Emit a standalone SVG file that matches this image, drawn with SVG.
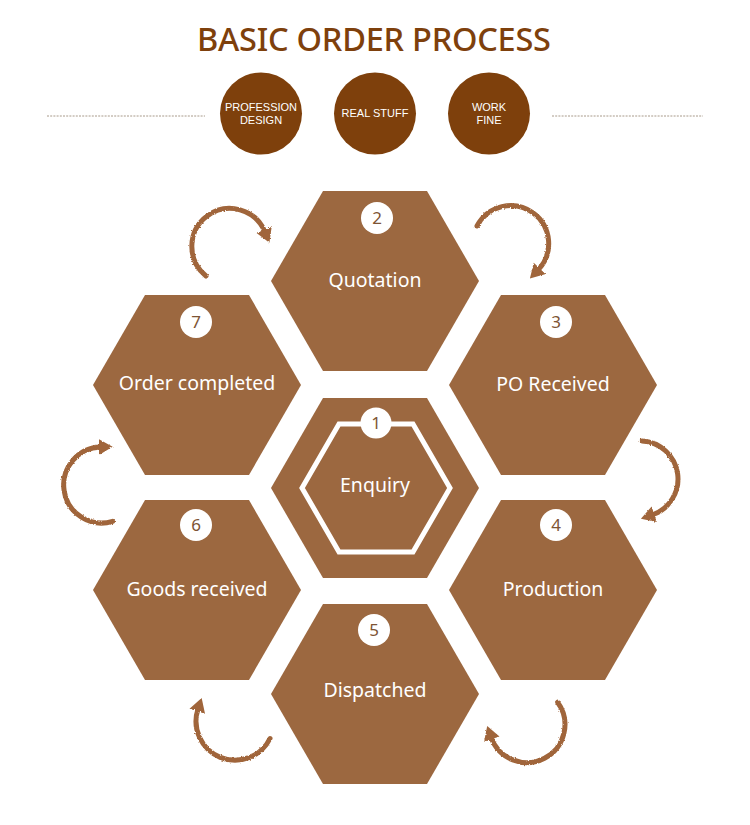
<svg xmlns="http://www.w3.org/2000/svg" width="750" height="825" viewBox="0 0 750 825">
<defs>
<style>
.hex{fill:#9C6840;}
.lbl{font-family:"Noto Sans","Open Sans",sans-serif;font-size:19.5px;fill:#ffffff;text-anchor:middle;}
.num{fill:#ffffff;}
.numt{font-family:"Noto Sans","Open Sans",sans-serif;font-size:17px;fill:#7d5434;text-anchor:middle;}
.badge{fill:#7E400C;}
.badget{font-family:"Liberation Sans",Arial,sans-serif;font-size:11px;fill:#ffffff;text-anchor:middle;}
.dash{stroke:#a89a8a;stroke-width:1;stroke-dasharray:2 1.2;fill:none;}
.arrow{fill:none;stroke:#A0653A;stroke-width:5;stroke-linecap:round;marker-end:url(#ah);filter:url(#rough);}
</style>
<polygon id="hex" points="-104,0 -52,-90 52,-90 104,0 52,90 -52,90"/>
<marker id="ah" viewBox="0 0 12 14" refX="2" refY="7" markerWidth="14" markerHeight="17" markerUnits="userSpaceOnUse" orient="auto">
<path d="M0,0 L12,7 L0,14 z" fill="#A0653A"/>
</marker>
<filter id="rough" x="-20%" y="-20%" width="140%" height="140%">
<feTurbulence type="fractalNoise" baseFrequency="0.7" numOctaves="2" result="n"/>
<feDisplacementMap in="SourceGraphic" in2="n" scale="2.5" xChannelSelector="R" yChannelSelector="G"/>
</filter>
</defs>
<rect width="750" height="825" fill="#ffffff"/>

<g id="header">
<text x="374" y="51" font-family="Noto Sans, Open Sans, sans-serif" font-size="32.5" font-weight="500" fill="#7E400C" text-anchor="middle" textLength="354">BASIC ORDER PROCESS</text>
<line class="dash" x1="47" y1="116" x2="205" y2="116"/>
<line class="dash" x1="552" y1="116" x2="703" y2="116"/>
</g>
<g id="badge-profession">
<circle class="badge" cx="261" cy="113.5" r="41"/>
<text class="badget" x="261" y="111">PROFESSION</text>
<text class="badget" x="261" y="124">DESIGN</text>
</g>
<g id="badge-real">
<circle class="badge" cx="375" cy="113.5" r="41"/>
<text class="badget" x="375" y="117">REAL STUFF</text>
</g>
<g id="badge-work">
<circle class="badge" cx="489" cy="113.5" r="41"/>
<text class="badget" x="489" y="111">WORK</text>
<text class="badget" x="489" y="124">FINE</text>
</g>

<g id="node1">
<use href="#hex" class="hex" transform="translate(375,488)"/>
<polygon points="302,488 339,424 413,424 450,488 413,552 339,552" fill="none" stroke="#ffffff" stroke-width="5"/>
<circle class="num" cx="376" cy="423" r="15.5"/>
<text class="numt" x="376" y="429">1</text>
<text class="lbl" x="375" y="492">Enquiry</text>
</g>
<g id="node2">
<use href="#hex" class="hex" transform="translate(375,281)"/>
<circle class="num" cx="377" cy="218" r="16"/>
<text class="numt" x="377" y="224">2</text>
<text class="lbl" x="375" y="287">Quotation</text>
</g>
<g id="node3">
<use href="#hex" class="hex" transform="translate(553,385)"/>
<circle class="num" cx="556" cy="322" r="16"/>
<text class="numt" x="556" y="328">3</text>
<text class="lbl" x="553" y="391">PO Received</text>
</g>
<g id="node4">
<use href="#hex" class="hex" transform="translate(553,590)"/>
<circle class="num" cx="556" cy="525" r="16"/>
<text class="numt" x="556" y="531">4</text>
<text class="lbl" x="553" y="596">Production</text>
</g>
<g id="node5">
<use href="#hex" class="hex" transform="translate(375,694)"/>
<circle class="num" cx="374" cy="630" r="16"/>
<text class="numt" x="374" y="636">5</text>
<text class="lbl" x="375" y="697">Dispatched</text>
</g>
<g id="node6">
<use href="#hex" class="hex" transform="translate(197,590)"/>
<circle class="num" cx="196" cy="525" r="16"/>
<text class="numt" x="196" y="531">6</text>
<text class="lbl" x="197" y="596">Goods received</text>
</g>
<g id="node7">
<use href="#hex" class="hex" transform="translate(197,385)"/>
<circle class="num" cx="196" cy="322" r="16"/>
<text class="numt" x="196" y="328">7</text>
<text class="lbl" x="197" y="390">Order completed</text>
</g>

<g id="connectors">
<path class="arrow" d="M206,276 A38,38 0 1 1 265,232"/>
<path class="arrow" d="M477,226 A38,38 0 1 1 538,270"/>
<path class="arrow" d="M642,441 A38,38 0 0 1 652,515"/>
<path class="arrow" d="M557.6,702.2 A38,38 0 1 1 491,737"/>
<path class="arrow" d="M270,738.5 A39,39 0 0 1 198,709"/>
<path class="arrow" d="M112.6,521.4 A38,38 0 1 1 101,447"/>
</g>
</svg>
